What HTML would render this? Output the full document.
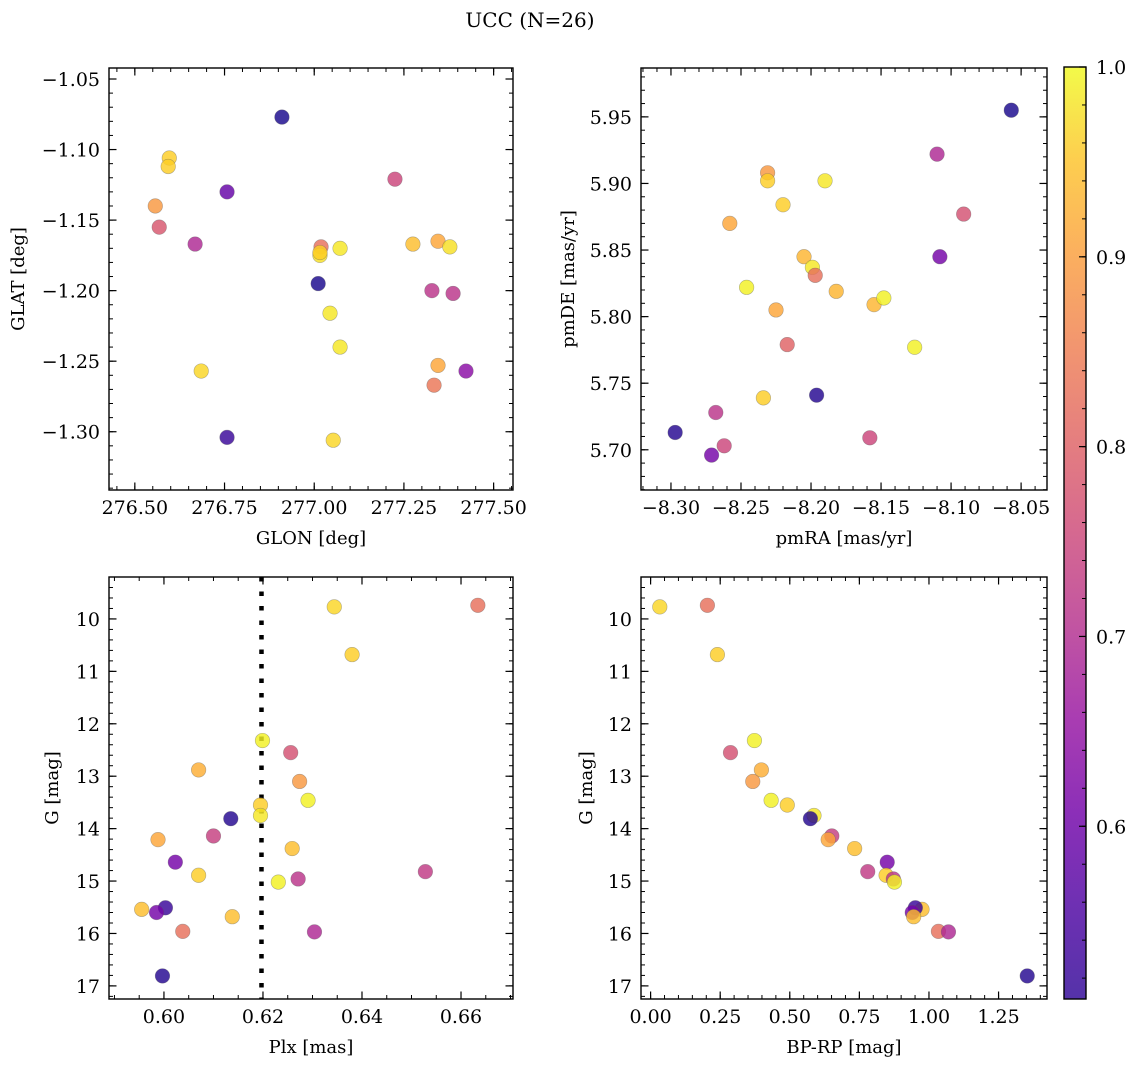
<!DOCTYPE html>
<html><head><meta charset="utf-8"><style>
html,body{margin:0;padding:0;background:#fff;}
svg{display:block;font-family:"DejaVu Serif","Liberation Serif",serif;}
</style></head><body>
<svg id="fig" width="1136" height="1067" viewBox="0 0 1136 1067" xmlns="http://www.w3.org/2000/svg">
<defs>
<linearGradient id="plasma" x1="0" y1="1" x2="0" y2="0">
<stop offset="0" stop-color="#2f0596"/><stop offset="0.1" stop-color="#4e02a2"/><stop offset="0.2" stop-color="#7201a8"/><stop offset="0.3" stop-color="#9612a1"/><stop offset="0.4" stop-color="#b42f8d"/><stop offset="0.5" stop-color="#cc4778"/><stop offset="0.6" stop-color="#df6263"/><stop offset="0.7" stop-color="#ef7e50"/><stop offset="0.8" stop-color="#fa9e3b"/><stop offset="0.9" stop-color="#fdc328"/><stop offset="1" stop-color="#f0f921"/>
</linearGradient>
</defs>
<text x="530" y="27" font-size="20" text-anchor="middle">UCC (N=26)</text>
</svg>
<script>
// ---- data ----
const glon = [276.910,276.596,276.593,276.757,276.557,276.568,276.668,277.225,277.019,277.016,277.072,277.275,277.345,277.378,277.011,277.328,277.387,277.044,277.072,276.685,277.345,277.423,277.334,276.757,277.053,277.016];
const glat = [-1.077,-1.106,-1.112,-1.130,-1.140,-1.155,-1.167,-1.121,-1.169,-1.175,-1.170,-1.167,-1.165,-1.169,-1.195,-1.200,-1.202,-1.216,-1.240,-1.257,-1.253,-1.257,-1.267,-1.304,-1.306,-1.173];
const probTL = [0.52,0.95,0.95,0.60,0.88,0.78,0.70,0.75,0.82,0.97,0.98,0.93,0.90,0.97,0.52,0.72,0.72,0.98,0.98,0.96,0.90,0.65,0.83,0.55,0.96,0.95];
const pmra = [-8.057,-8.110,-8.091,-8.108,-8.231,-8.231,-8.190,-8.220,-8.258,-8.205,-8.199,-8.197,-8.246,-8.182,-8.225,-8.155,-8.148,-8.217,-8.126,-8.234,-8.196,-8.297,-8.268,-8.262,-8.271,-8.158];
const pmde = [5.955,5.922,5.877,5.845,5.908,5.902,5.902,5.884,5.870,5.845,5.837,5.831,5.822,5.819,5.805,5.809,5.814,5.779,5.777,5.739,5.741,5.713,5.728,5.703,5.696,5.709];
const probTR = [0.52,0.70,0.77,0.62,0.88,0.95,0.98,0.95,0.90,0.92,0.98,0.82,0.99,0.92,0.90,0.92,0.99,0.80,0.99,0.95,0.53,0.53,0.72,0.75,0.62,0.75];
const plx = [0.6344,0.6634,0.6380,0.6199,0.6256,0.6070,0.6274,0.6291,0.6195,0.6195,0.6135,0.6100,0.5988,0.6259,0.6023,0.6528,0.6070,0.6271,0.6231,0.5955,0.6003,0.5985,0.6138,0.6038,0.6304,0.5997];
const gmag = [9.77,9.74,10.68,12.32,12.55,12.88,13.10,13.46,13.55,13.75,13.81,14.14,14.21,14.38,14.64,14.82,14.89,14.96,15.02,15.54,15.51,15.60,15.68,15.96,15.97,16.81];
const bprp = [0.033,0.204,0.240,0.373,0.287,0.398,0.367,0.433,0.491,0.587,0.574,0.651,0.638,0.733,0.850,0.780,0.846,0.872,0.876,0.975,0.951,0.940,0.945,1.034,1.070,1.353];
const probB = [0.96,0.82,0.95,0.99,0.77,0.91,0.88,0.99,0.95,0.98,0.53,0.74,0.90,0.93,0.62,0.73,0.95,0.72,0.99,0.93,0.55,0.62,0.93,0.82,0.70,0.53];
const plxLine = [0.6197];
const cbTicks = [0.6,0.7,0.8,0.9,1.0];
const cRange = [0.509,1.0];

const NS='http://www.w3.org/2000/svg';
const svg=document.getElementById('fig');
function el(tag,attrs,parent){const e=document.createElementNS(NS,tag);for(const k in attrs)e.setAttribute(k,attrs[k]);(parent||svg).appendChild(e);return e;}
const stops=[[0,[13,8,135]],[0.1,[65,4,157]],[0.2,[106,0,168]],[0.3,[143,13,164]],[0.4,[177,42,144]],[0.5,[204,71,120]],[0.6,[225,100,98]],[0.7,[242,132,75]],[0.8,[252,166,54]],[0.9,[252,206,37]],[1,[240,249,33]]];
function plasma(v){let t=(v-cRange[0])/(cRange[1]-cRange[0]);t=Math.max(0,Math.min(1,t));
 for(let i=1;i<stops.length;i++){if(t<=stops[i][0]){const a=stops[i-1],b=stops[i],f=(t-a[0])/(b[0]-a[0]);
 return 'rgb('+a[1].map((c,j)=>Math.round(c+(b[1][j]-c)*f)).join(',')+')';}}return 'rgb(240,249,33)';}
function fmt(v,d){const s=Math.abs(v).toFixed(d);return (v<-1e-9?'\u2212':'')+s;}
const FS=19;
function panel(o){
 const g=el('g',{});
 
 
 const L=o.box[0],T=o.box[1],R=o.box[2],B=o.box[3];
 const sx=v=>L+(v-o.xr[0])/(o.xr[1]-o.xr[0])*(R-L);
 const sy=v=>o.yinv? T+(v-o.yr[0])/(o.yr[1]-o.yr[0])*(B-T) : B-(v-o.yr[0])/(o.yr[1]-o.yr[0])*(B-T);
 if(o.vline){const ln=el('line',{x1:sx(o.vline),x2:sx(o.vline),y1:T,y2:B,stroke:'#000','stroke-width':4.5,'stroke-dasharray':'4.5 10'},g);
  
  }
 for(let i=0;i<o.x.length;i++){
  const c=el('circle',{cx:sx(o.x[i]),cy:sy(o.y[i]),r:7.3,fill:plasma(o.c[i]),'fill-opacity':0.82,stroke:'rgba(90,90,90,0.45)','stroke-width':0.6},g);
  
  
 }
 el('rect',{x:L,y:T,width:R-L,height:B-T,fill:'none',stroke:'#000','stroke-width':1.4},g);
 const lo=(a,b)=>Math.min(a,b),hi=(a,b)=>Math.max(a,b);
 function ticks(r,step){const out=[];const s=Math.ceil(lo(r[0],r[1])/step-1e-6);for(let k=s;k*step<=hi(r[0],r[1])+1e-9;k++)out.push(+(k*step).toFixed(6));return out;}
 ticks(o.xr,o.xminor).forEach(v=>{const x=sx(v);el('line',{x1:x,x2:x,y1:B,y2:B-4,stroke:'#000','stroke-width':1},g);el('line',{x1:x,x2:x,y1:T,y2:T+4,stroke:'#000','stroke-width':1},g);});
 ticks(o.yr,o.yminor).forEach(v=>{const y=sy(v);el('line',{x1:L,x2:L+4,y1:y,y2:y,stroke:'#000','stroke-width':1},g);el('line',{x1:R,x2:R-4,y1:y,y2:y,stroke:'#000','stroke-width':1},g);});
 ticks(o.xr,o.xmajor).forEach(v=>{const x=sx(v);el('line',{x1:x,x2:x,y1:B,y2:B-7.5,stroke:'#000','stroke-width':1.2},g);el('line',{x1:x,x2:x,y1:T,y2:T+7.5,stroke:'#000','stroke-width':1.2},g);
  const t=el('text',{x:x,y:B+24,'font-size':FS,'text-anchor':'middle'},g);t.textContent=fmt(v,o.xd);
  
  });
 ticks(o.yr,o.ymajor).forEach(v=>{const y=sy(v);el('line',{x1:L,x2:L+7.5,y1:y,y2:y,stroke:'#000','stroke-width':1.2},g);el('line',{x1:R,x2:R-7.5,y1:y,y2:y,stroke:'#000','stroke-width':1.2},g);
  const t=el('text',{x:L-9,y:y+7,'font-size':FS,'text-anchor':'end'},g);t.textContent=fmt(v,o.yd);
  
  });
 const xt=el('text',{x:(L+R)/2,y:B+54,'font-size':FS-1,'text-anchor':'middle'},g);xt.textContent=o.xl;
 
 
 const yt=el('text',{x:0,y:0,'font-size':FS-1,'text-anchor':'middle',transform:'translate('+o.ylx+','+((T+B)/2)+') rotate(-90)'},g);yt.textContent=o.yl;
 
 
}
panel({name:'glon-glat-panel',box:[109,68,513,490],xr:[276.428,277.554],yr:[-1.3413,-1.0422],x:glon,y:glat,c:probTL,xmajor:0.25,xminor:0.05,ymajor:0.05,yminor:0.01,xd:2,yd:2,xl:'GLON [deg]',yl:'GLAT [deg]',ylx:24});
panel({name:'pmra-pmde-panel',box:[641,68,1047,490],xr:[-8.3214,-8.0315],yr:[5.6698,5.9867],x:pmra,y:pmde,c:probTR,xmajor:0.05,xminor:0.01,ymajor:0.05,yminor:0.01,xd:2,yd:2,xl:'pmRA [mas/yr]',yl:'pmDE [mas/yr]',ylx:574});
panel({name:'plx-g-panel',box:[109,577,513,999],xr:[0.5889,0.6705],yr:[9.20,17.25],yinv:true,x:plx,y:gmag,c:probB,xmajor:0.02,xminor:0.005,ymajor:1,yminor:0.2,xd:2,yd:0,xl:'Plx [mas]',yl:'G [mag]',ylx:58,vline:plxLine[0]});
panel({name:'bprp-g-panel',box:[641,577,1047,999],xr:[-0.0345,1.424],yr:[9.20,17.25],yinv:true,x:bprp,y:gmag,c:probB,xmajor:0.25,xminor:0.05,ymajor:1,yminor:0.2,xd:2,yd:0,xl:'BP-RP [mag]',yl:'G [mag]',ylx:592});

const cb=el('g',{});


const cT=67,cB=999,cL=1064,cR=1086;
el('rect',{x:cL,y:cT,width:cR-cL,height:cB-cT,fill:'url(#plasma)','fill-opacity':0.82},cb);
el('rect',{x:cL,y:cT,width:cR-cL,height:cB-cT,fill:'none',stroke:'#000','stroke-width':1.4},cb);
const cy=v=>cB-(v-cRange[0])/(cRange[1]-cRange[0])*(cB-cT);
for(let k=26;k<=50;k++){const v=k*0.02;if(v<cRange[0]||v>cRange[1]+1e-9)continue;el('line',{x1:cR,x2:cR-4,y1:cy(v),y2:cy(v),stroke:'#000','stroke-width':1},cb);}
cbTicks.forEach(v=>{el('line',{x1:cR,x2:cR-7,y1:cy(v),y2:cy(v),stroke:'#000','stroke-width':1.2},cb);
 const t=el('text',{x:cR+10,y:cy(v)+7,'font-size':FS},cb);t.textContent=v.toFixed(1);
 
 });
</script>
</body></html>
